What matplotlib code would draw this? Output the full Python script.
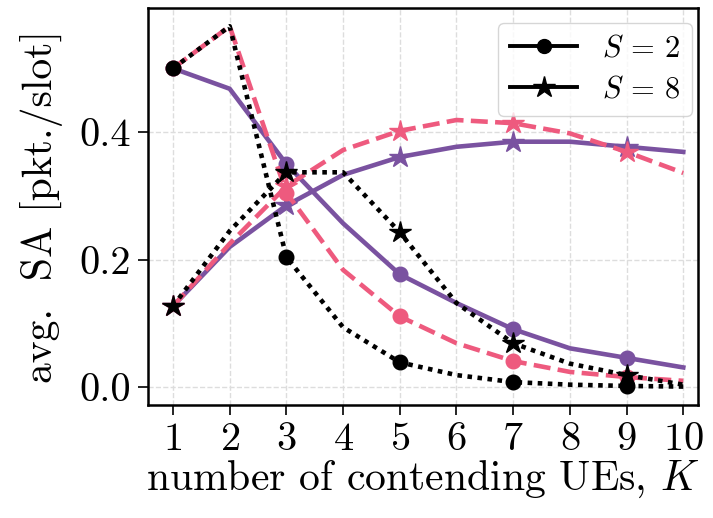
import matplotlib
matplotlib.use("Agg")
import matplotlib.pyplot as plt
from matplotlib.lines import Line2D

plt.rcParams['font.family'] = 'cmr10'
plt.rcParams['mathtext.fontset'] = 'cm'
plt.rcParams['axes.formatter.use_mathtext'] = True

K = [1, 2, 3, 4, 5, 6, 7, 8, 9, 10]

# S = 2
purple_s2 = [0.500, 0.468, 0.350, 0.257, 0.177, 0.132, 0.091, 0.061, 0.046, 0.031]
pink_s2 = [0.500, 0.566, 0.305, 0.184, 0.111, 0.069, 0.041, 0.024, 0.016, 0.010]
black_s2 = [0.500, 0.566, 0.204, 0.094, 0.039, 0.019, 0.008, 0.004, 0.002, 0.001]

# S = 8
purple_s8 = [0.127, 0.220, 0.285, 0.333, 0.361, 0.377, 0.385, 0.385, 0.377, 0.369]
pink_s8 = [0.127, 0.225, 0.315, 0.372, 0.402, 0.419, 0.414, 0.398, 0.369, 0.336]
black_s8 = [0.127, 0.245, 0.337, 0.337, 0.243, 0.132, 0.069, 0.037, 0.019, 0.004]

PURPLE = '#7a52a0'
PINK = '#ee5a7e'
BLACK = 'black'

fig = plt.figure(figsize=(7.13, 5.18), dpi=100)
ax = fig.add_axes([0.2076, 0.218, 0.7714, 0.767])

lw = 3.3
dash = (0, (3.7, 1.6))
dot = (0, (1, 1.2))
ms_c, ms_s = 10.5, 16
ax.plot(K, purple_s2, color=PURPLE, ls='-', lw=lw, marker='o', ms=ms_c, markevery=2, zorder=3)
ax.plot(K, purple_s8, color=PURPLE, ls='-', lw=lw, marker='*', ms=ms_s, markevery=2, zorder=3)
ax.plot(K, pink_s2, color=PINK, ls=dash, lw=lw, marker='o', ms=ms_c, markevery=2, zorder=4)
ax.plot(K, pink_s8, color=PINK, ls=dash, lw=lw, marker='*', ms=ms_s, markevery=2, zorder=4)
ax.plot(K, black_s2, color=BLACK, ls=dot, lw=lw, marker='o', ms=ms_c, markevery=2, zorder=5)
ax.plot(K, black_s8, color=BLACK, ls=dot, lw=lw, marker='*', ms=ms_s, markevery=2, zorder=5)

ax.set_xlim(0.56, 10.26)
ax.set_ylim(-0.028, 0.595)
ax.set_xticks(K)
ax.set_yticks([0.0, 0.2, 0.4])
ax.set_yticklabels(['0.0', '0.2', '0.4'])
ax.grid(True, ls='--', color='#dddddd', lw=1)
ax.tick_params(labelsize=29, length=7, width=1.2, direction='out', pad=5)
for s in ax.spines.values():
    s.set_linewidth(1.8)

ax.set_xlabel('number of contending UEs, $K$', fontsize=30, labelpad=1)
ax.set_ylabel('avg.  SA [pkt./slot]', fontsize=30, labelpad=12)

handles = [Line2D([], [], color='black', lw=2.8, marker='o', ms=10),
           Line2D([], [], color='black', lw=2.8, marker='*', ms=16)]
ax.legend(handles, [r'$S\,=\,2$', r'$S\,=\,8$'], loc='upper right',
          bbox_to_anchor=(0.989, 0.962), borderaxespad=0.0, fontsize=22,
          framealpha=0.8, edgecolor='#cccccc', fancybox=True,
          handlelength=2.2, labelspacing=0.45)

fig.savefig('out.png', dpi=100)
